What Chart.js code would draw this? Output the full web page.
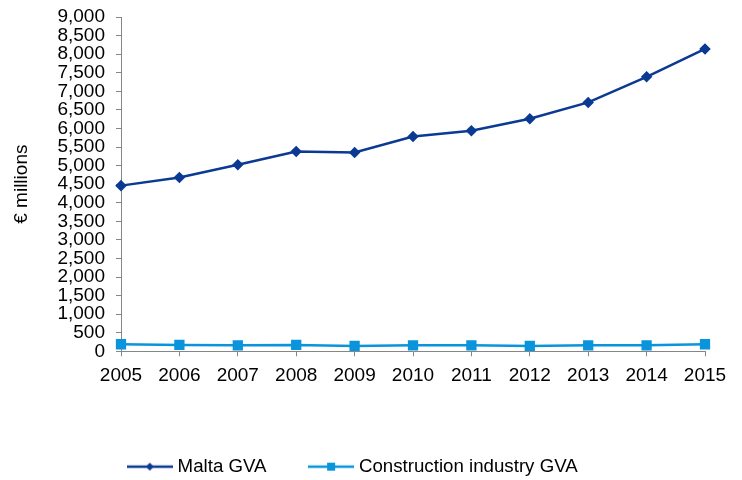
<!DOCTYPE html>
<html>
<head>
<meta charset="utf-8">
<script src="https://cdn.jsdelivr.net/npm/chart.js@4/dist/chart.umd.min.js"></script>
<style>
  html, body { margin: 0; padding: 0; background: #fff; overflow: hidden; }
  #clip { width: 742px; height: 480px; overflow: hidden; }
  canvas { display: block; }
</style>
</head>
<body>
<div id="clip"><canvas id="chart" width="742" height="486"></canvas></div>
<script>
const years = ["2005", "2006", "2007", "2008", "2009", "2010", "2011", "2012", "2013", "2014", "2015"];
const maltaGva = [4460, 4680, 5020, 5380, 5350, 5780, 5940, 6260, 6700, 7390, 8140];
const constructionGva = [190, 170, 160, 170, 145, 160, 160, 145, 160, 160, 190];

const navy = "#0b3a93";
const sky = "#0a94dc";

// small line+marker swatch for the legend
function swatch(color, style) {
  const c = document.createElement("canvas");
  c.width = 46;
  c.height = 12;
  const g = c.getContext("2d");
  g.strokeStyle = color;
  g.lineWidth = 2.5;
  g.beginPath();
  g.moveTo(0, 6);
  g.lineTo(46, 6);
  g.stroke();
  g.fillStyle = color;
  if (style === "diamond") {
    g.beginPath();
    g.moveTo(23, 2);
    g.lineTo(27, 6);
    g.lineTo(23, 10);
    g.lineTo(19, 6);
    g.closePath();
    g.fill();
  } else {
    g.fillRect(19, 2, 8, 8);
  }
  return c;
}

const legendIcons = [swatch(navy, "diamond"), swatch(sky, "square")];

Chart.defaults.font.family = "'Liberation Sans', Arial, sans-serif";
Chart.defaults.font.size = 19;
Chart.defaults.color = "#000";

new Chart(document.getElementById("chart").getContext("2d"), {
  type: "line",
  data: {
    labels: years,
    datasets: [
      {
        label: "Malta GVA",
        data: maltaGva,
        borderColor: navy,
        backgroundColor: navy,
        borderWidth: 2.5,
        pointStyle: "rectRot",
        pointRadius: 4,
        pointHoverRadius: 4,
        tension: 0,
      },
      {
        label: "Construction industry GVA",
        data: constructionGva,
        borderColor: sky,
        backgroundColor: sky,
        borderWidth: 2.5,
        pointStyle: "rect",
        pointRadius: 5.5,
        pointHoverRadius: 5.5,
        tension: 0,
      },
    ],
  },
  options: {
    responsive: false,
    animation: false,
    layout: { padding: { top: 17, right: 37, left: 4, bottom: 0 } },
    plugins: {
      tooltip: { enabled: false },
      legend: {
        position: "bottom",
        labels: {
          font: { size: 18.7 },
          usePointStyle: true,
          pointStyleWidth: 37,
          padding: 46,
          generateLabels: (chart) =>
            chart.data.datasets.map((ds, i) => ({
              text: ds.label,
              pointStyle: legendIcons[i],
              fillStyle: ds.borderColor,
              strokeStyle: ds.borderColor,
              lineWidth: 0,
              datasetIndex: i,
              hidden: false,
            })),
        },
      },
    },
    scales: {
      x: {
        offset: false,
        grid: { display: true, drawOnChartArea: false, drawTicks: true, tickLength: 5, color: "#868686" },
        border: { color: "#868686", width: 1 },
        ticks: { padding: 8, maxRotation: 0, autoSkip: false },
        afterFit: (s) => { s.height = 60; },
      },
      y: {
        min: 0,
        max: 9000,
        grid: { drawOnChartArea: false, drawTicks: true, tickLength: 5, color: "#868686" },
        border: { color: "#868686", width: 1 },
        ticks: {
          stepSize: 500,
          padding: 11,
          autoSkip: false,
          callback: (v) => v.toLocaleString("en-US"),
        },
        title: { display: true, text: "€ millions", padding: { top: 6, bottom: 0 } },
        afterFit: (s) => {
          s.width = 117;
          s.paddingTop = 12;
          s.paddingBottom = 12;
        },
      },
    },
  },
});
</script>
</body>
</html>
